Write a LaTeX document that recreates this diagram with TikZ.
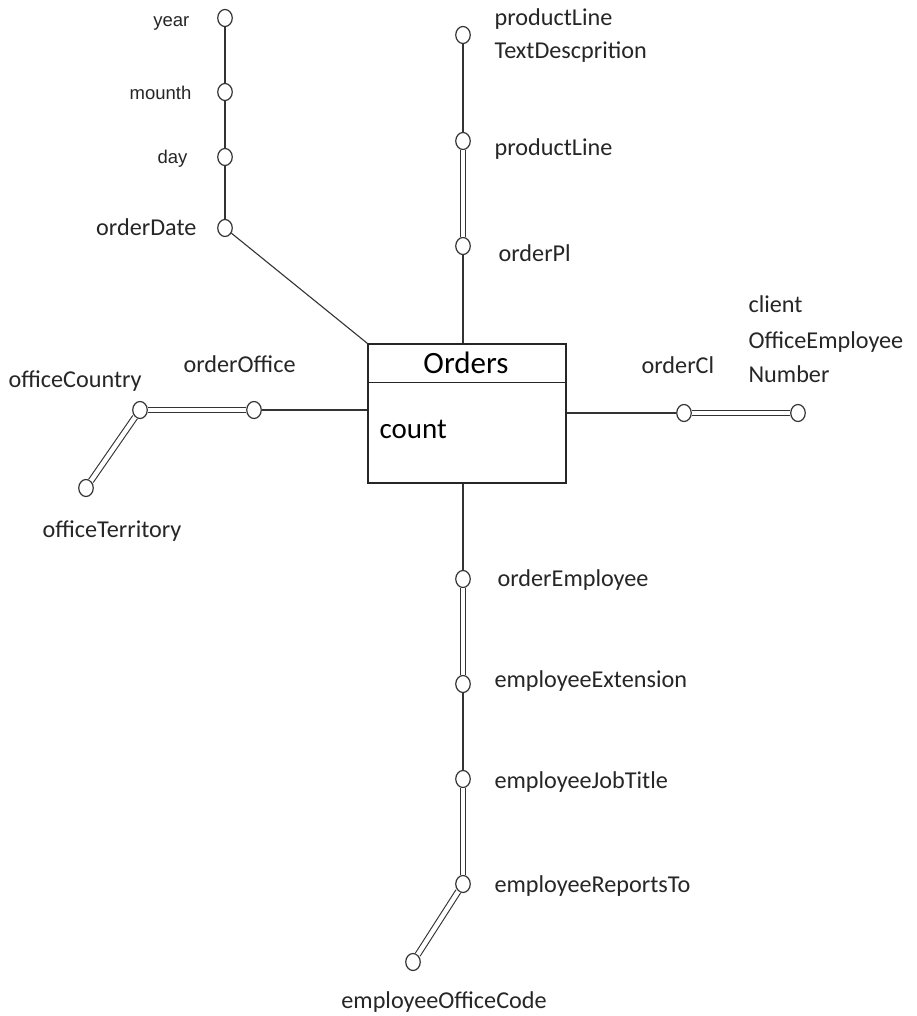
\documentclass[tikz,border=0pt]{standalone}
\usepackage{fontspec}
\setmainfont{Carlito}
\newfontfamily\arialfont{Liberation Sans}
\usetikzlibrary{shapes.geometric,calc}
\begin{document}
\begin{tikzpicture}[x=1pt,y=-1pt,
  line width=1.2pt,
  attr/.style={draw=black!80, ellipse, fill=white, minimum width=14.5pt, minimum height=17pt, inner sep=0pt},
  link/.style={draw=black!80, line width=1.1pt},
  dlink/.style={draw=black!80, line width=1.1pt, double=white, double distance=4.4pt},
  lbl/.style={font=\fontsize{24.2}{29}\selectfont, inner sep=0pt, text=black!85},
  slbl/.style={font=\arialfont\fontsize{18.5}{22}\selectfont, inner sep=0pt, text=black!85},
  big/.style={font=\fontsize{29}{34}\selectfont, inner sep=0pt, text=black}]
\useasboundingbox[fill=white] (0,0) rectangle (916,1016);

% fact table
\node[draw=black!85, line width=1.3pt, minimum width=198pt, minimum height=139pt, inner sep=0pt] (ord) at (467,413.5) {};
\coordinate (divL) at ($(ord.north west)+(0,39)$);
\coordinate (divR) at ($(ord.north east)+(0,39)$);
\draw[black!85, line width=1.3pt] (divL) -- (divR);
\node[big, font=\fontsize{31}{36}\selectfont, anchor=mid] (ordT) at (466,371) {Orders};
\node[big, anchor=mid west] (cnt) at (379,436) {count};

% date hierarchy
\node[attr] (yr) at (225,18) {};
\node[attr] (mo) at (225,92) {};
\node[attr] (dy) at (225,157) {};
\node[attr] (od) at (225,228) {};
\node[slbl, anchor=mid east] (yrL) at (190,24) {year};
\node[slbl, anchor=mid east] (moL) at (192,97) {mounth};
\node[slbl, anchor=mid east] (dyL) at (188,161) {day};
\node[lbl, anchor=mid east] (odL) at (197,233) {orderDate};
\draw[link] (yr) -- (mo);
\draw[link] (mo) -- (dy);
\draw[link] (dy) -- (od);
\draw[link] (od) -- (ord.north west);

% product line hierarchy
\node[attr] (ptd) at (463,35) {};
\node[attr] (pl) at (463,141) {};
\node[attr] (opl) at (463,246) {};
\node[lbl, anchor=mid west] (ptdL1) at (494,23) {productLine};
\node[lbl, anchor=mid west] (ptdL2) at (494,56) {TextDescprition};
\node[lbl, anchor=mid west] (plL) at (494,153) {productLine};
\node[lbl, anchor=mid west] (oplL) at (498,259) {orderPl};
\draw[link] (ptd) -- (pl);
\draw[dlink] (pl) -- (opl);
\draw[link] (opl) -- (opl |- ord.north);

% office hierarchy
\node[attr] (oo) at (254,410) {};
\node[attr] (oc) at (140,410) {};
\node[attr] (ot) at (86,488) {};
\node[lbl, anchor=mid west] (ooL) at (183,370) {orderOffice};
\node[lbl, anchor=mid west] (ocL) at (8,385) {officeCountry};
\node[lbl, anchor=mid west] (otL) at (42,535) {officeTerritory};
\draw[link] (ord.west |- oo) -- (oo);
\draw[dlink] (oo) -- (oc);
\draw[dlink] (oc) -- (ot);

% client hierarchy
\node[attr] (ocl) at (684,413) {};
\node[attr] (cen) at (798,413) {};
\node[lbl, anchor=mid west] (oclL) at (641,371) {orderCl};
\node[lbl, anchor=mid west] (cenL1) at (748,310) {client};
\node[lbl, anchor=mid west] (cenL2) at (748,346) {OfficeEmployee};
\node[lbl, anchor=mid west] (cenL3) at (748,380) {Number};
\draw[link] (ord.east |- ocl) -- (ocl);
\draw[dlink] (ocl) -- (cen);

% employee hierarchy
\node[attr] (oe) at (463,579) {};
\node[attr] (ee) at (463,684) {};
\node[attr] (ej) at (463,779) {};
\node[attr] (er) at (463,884) {};
\node[attr] (eo) at (413,962) {};
\node[lbl, anchor=mid west] (oeL) at (497,584) {orderEmployee};
\node[lbl, anchor=mid west] (eeL) at (494,685) {employeeExtension};
\node[lbl, anchor=mid west] (ejL) at (494,786) {employeeJobTitle};
\node[lbl, anchor=mid west] (erL) at (494,890) {employeeReportsTo};
\node[lbl, anchor=mid] (eoL) at (444,1006) {employeeOfficeCode};
\draw[link] (oe |- ord.south) -- (oe);
\draw[dlink] (oe) -- (ee);
\draw[link] (ee) -- (ej);
\draw[dlink] (ej) -- (er);
\draw[dlink] (er) -- (eo);
\end{tikzpicture}
\end{document}
